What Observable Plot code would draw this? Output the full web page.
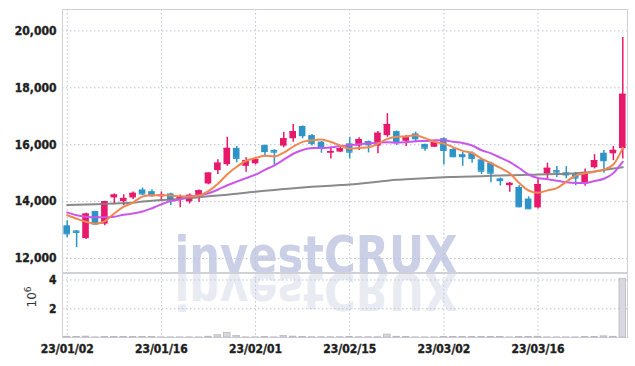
<!DOCTYPE html>
<html><head><meta charset="utf-8">
<script src="https://cdn.jsdelivr.net/npm/d3@7"></script>
<script src="https://cdn.jsdelivr.net/npm/@observablehq/plot@0.6"></script>
<style>
body{margin:0;background:#fff;}
#wrap{position:relative;width:635px;height:366px;overflow:hidden;}
#wm{position:absolute;left:0;top:0;z-index:0;}
#charts{position:relative;z-index:1;}
#charts svg{display:block;}
</style></head><body>
<div id="wrap">
<svg id="wm" width="635" height="366">
  <g fill="#cbd0e6">
    <text id="wm1" x="316" y="273" text-anchor="middle" font-family="'DejaVu Sans Condensed','DejaVu Sans',sans-serif" font-size="51" font-weight="bold" textLength="283" lengthAdjust="spacingAndGlyphs"></text>
  </g>
  <use href="#wm1" transform="translate(0,546) scale(1,-1)" fill="#e9ebf3"></use>
  <text id="vlab" transform="translate(36,297) rotate(-90)" text-anchor="middle" font-family="'DejaVu Sans',sans-serif" font-size="12" fill="#333"></text>
</svg>
<div id="charts"></div>
</div>
<script>
const dates = [
  "23/01/02","23/01/03","23/01/04","23/01/05","23/01/06",
  "23/01/09","23/01/10","23/01/11","23/01/12","23/01/13",
  "23/01/16","23/01/17","23/01/18","23/01/19","23/01/20",
  "23/01/25","23/01/26","23/01/27","23/01/30","23/01/31",
  "23/02/01","23/02/02","23/02/03","23/02/06","23/02/07",
  "23/02/08","23/02/09","23/02/10","23/02/13","23/02/14",
  "23/02/15","23/02/16","23/02/17","23/02/20","23/02/21",
  "23/02/22","23/02/23","23/02/24","23/02/27","23/02/28",
  "23/03/02","23/03/03","23/03/06","23/03/07","23/03/08",
  "23/03/09","23/03/10","23/03/13","23/03/14","23/03/15",
  "23/03/16","23/03/17","23/03/20","23/03/21","23/03/22",
  "23/03/23","23/03/24","23/03/27","23/03/28","23/03/29"
];
const open = [13150,12970,12700,13650,13210,14130,14000,14130,14410,14350,
  14170,14270,14080,13990,14210,14620,15090,15300,15870,15240,
  15330,15970,15800,15950,16210,16640,16320,16090,15700,15740,
  16030,15950,16110,15950,16320,16460,16120,16380,16010,15910,
  16210,15830,15650,15700,15470,15350,14800,14560,14500,14090,
  13780,14970,15090,15010,14950,14620,15190,15700,15680,15860];
const high = [13330,12980,13590,13660,14010,14270,14240,14340,14480,14420,
  14340,14290,14230,14270,14410,15010,15470,16260,15940,15540,
  15560,15990,15820,16440,16710,16660,16360,16110,15910,15910,
  16260,16240,16130,16460,17090,16480,16320,16440,16020,16120,
  16240,15890,15740,15740,15500,15380,14830,14670,14560,14170,
  14850,15350,15230,15230,15030,15150,15650,15800,15940,19770];
const low = [12740,12380,12670,13190,13150,13890,13860,14070,14210,14150,
  14030,13860,13780,13920,13970,14590,14950,15240,15360,15030,
  15290,15560,15290,15890,16090,16210,15950,15700,15500,15720,
  15500,15800,15710,15680,16260,15970,15940,16070,15770,15900,
  15290,15540,15240,15350,14950,14660,14550,14330,13780,13730,
  13740,14800,14850,14800,14560,14540,15150,15000,15440,15500];
const close = [12870,12920,13560,13210,14000,14230,14110,14290,14270,14210,
  14230,14060,14170,14220,14380,15000,15350,15870,15520,15440,
  15470,15760,15740,16210,16460,16320,16050,15880,15760,15860,
  15740,16180,16000,16400,16710,16110,16240,16210,15880,16070,
  15800,15580,15580,15520,15070,15000,14740,14640,13820,13750,
  14600,15170,15040,14940,14830,15000,15440,15440,15800,17770];
// volume in millions of shares
const volume = [0.05,0.04,0.06,0.01,0.04,0.03,0.03,0.04,0.03,0.03,
  0.01,0.01,0.01,0.01,0.01,0.05,0.16,0.32,0.10,0.01,
  0.01,0.04,0.01,0.10,0.06,0.03,0.02,0.02,0.02,0.02,
  0.03,0.02,0.02,0.02,0.20,0.05,0.04,0.01,0.01,0.01,
  0.03,0.03,0.03,0.03,0.03,0.03,0.03,0.01,0.04,0.04,
  0.05,0.01,0.01,0.01,0.01,0.04,0.04,0.08,0.05,4.08];
const ma5 = [13520,13400,13290,13220,13312,13584,13822,13968,14180,14222,
  14222,14212,14188,14178,14212,14366,14624,14964,15224,15436,
  15530,15612,15586,15724,15928,16098,16156,16184,16094,15974,
  15858,15884,15908,16036,16206,16280,16292,16334,16230,16102,
  16040,15908,15782,15710,15510,15350,15182,14994,14654,14390,
  14310,14396,14476,14700,14916,14996,15050,15130,15302,15890];
const ma10 = [13620,13520,13470,13450,13450,13470,13540,13580,13650,13767,
  13903,14017,14078,14179,14217,14294,14418,14576,14701,14824,
  14948,15118,15275,15474,15682,15814,15884,15885,15909,15951,
  15978,16020,16046,16065,16090,16069,16088,16121,16133,16154,
  16160,16100,16058,15970,15806,15695,15545,15388,15182,14950,
  14830,14789,14735,14677,14653,14653,14723,14803,15001,15403];
const ma60 = [13880,13890,13900,13910,13920,13930,13945,13960,14000,14030,
  14055,14075,14095,14125,14155,14185,14215,14245,14280,14315,
  14350,14380,14410,14440,14470,14500,14520,14540,14560,14580,
  14600,14630,14665,14700,14735,14765,14785,14805,14820,14840,
  14855,14865,14875,14885,14895,14905,14915,14925,14935,14940,
  14950,14960,14970,14980,14995,15020,15060,15110,15160,15210];
const xTicks = ["23/01/02","23/01/16","23/02/01","23/02/15","23/03/02","23/03/16"];
const priceTicks = [12000,14000,16000,18000,20000];
const volumeTicks = [2,4];
const volumeLabelBase = "10";
const volumeLabelExp = "6";
const watermark = "investCRUX";

const rows = dates.map((d, i) => ({date: d, open: open[i], high: high[i], low: low[i], close: close[i],
  volume: volume[i], ma5: ma5[i], ma10: ma10[i], ma60: ma60[i]}));

const UP = "#e8196a", DOWN = "#2e94c8";
const col = d => d.close >= d.open ? UP : DOWN;
const font = "'DejaVu Sans Condensed','DejaVu Sans',sans-serif";
const GRID = "#bcc1da";
const FRAME = "#cfd0d8";
const xBase = {type: "band", domain: dates, paddingInner: 0.3, paddingOuter: 0.15, align: 0.5, round: false};
const style = {fontFamily: font, fontSize: "12px", fontWeight: "bold", color: "#222", background: "transparent", overflow: "visible"};

const price = Plot.plot({
  width: 635, height: 272, marginTop: 9, marginBottom: 0, marginLeft: 62, marginRight: 8,
  style,
  x: {...xBase, axis: null},
  y: {domain: [11509, 20751], ticks: priceTicks, tickSize: 0, tickPadding: 6, tickFormat: d3.format(","), label: null},
  marks: [
    Plot.ruleX(xTicks, {x: d => d, stroke: GRID, strokeDasharray: "1.5,2.5"}),
    Plot.ruleY(priceTicks, {y: d => d, stroke: GRID, strokeDasharray: "1.5,2.5"}),
    Plot.frame({stroke: FRAME}),
    Plot.ruleX(rows, {x: "date", y1: "low", y2: "high", stroke: col, strokeWidth: 1.5}),
    Plot.barY(rows, {x: "date", y1: "open", y2: "close", fill: col}),
    Plot.tickY(rows, {x: "date", y: "close", stroke: col, strokeWidth: 1.2}),
    Plot.line(rows, {x: "date", y: "ma60", stroke: "#7d7d7d", strokeWidth: 2, strokeOpacity: 0.9, curve: "monotone-x"}),
    Plot.line(rows, {x: "date", y: "ma10", stroke: "#c957ec", strokeWidth: 2, curve: "monotone-x"}),
    Plot.line(rows, {x: "date", y: "ma5", stroke: "#ef8850", strokeWidth: 2, curve: "monotone-x"})
  ]
});

const vol = Plot.plot({
  width: 635, height: 94, marginTop: 1, marginBottom: 29, marginLeft: 62, marginRight: 8,
  style,
  x: {...xBase, tickSize: 0, tickPadding: 7, tickFormat: d => xTicks.includes(d) ? d : "", label: null},
  y: {domain: [0, 4.45], ticks: volumeTicks, tickSize: 0, tickPadding: 6, tickFormat: d => String(d), label: null},
  marks: [
    Plot.ruleX(xTicks, {x: d => d, stroke: GRID, strokeDasharray: "1.5,2.5"}),
    Plot.ruleY(volumeTicks, {y: d => d, stroke: GRID, strokeDasharray: "1.5,2.5"}),
    Plot.frame({stroke: FRAME}),
    Plot.barY(rows, {x: "date", y: "volume", fill: "#d8d8de", stroke: "#b9b9c2", strokeWidth: 0.8})
  ]
});

document.getElementById("charts").append(price, vol);
d3.selectAll("#charts svg text")
  .attr("font-weight", "bold").style("font-weight", "bold")
  .attr("fill", "#1e1e1e").attr("stroke", "#1e1e1e").attr("stroke-width", 0.35);
document.getElementById("wm1").textContent = watermark;
const vlab = d3.select("#vlab");
vlab.append("tspan").text(volumeLabelBase);
vlab.append("tspan").attr("dy", -5).attr("font-size", 9).text(volumeLabelExp);
</script>
</body></html>
